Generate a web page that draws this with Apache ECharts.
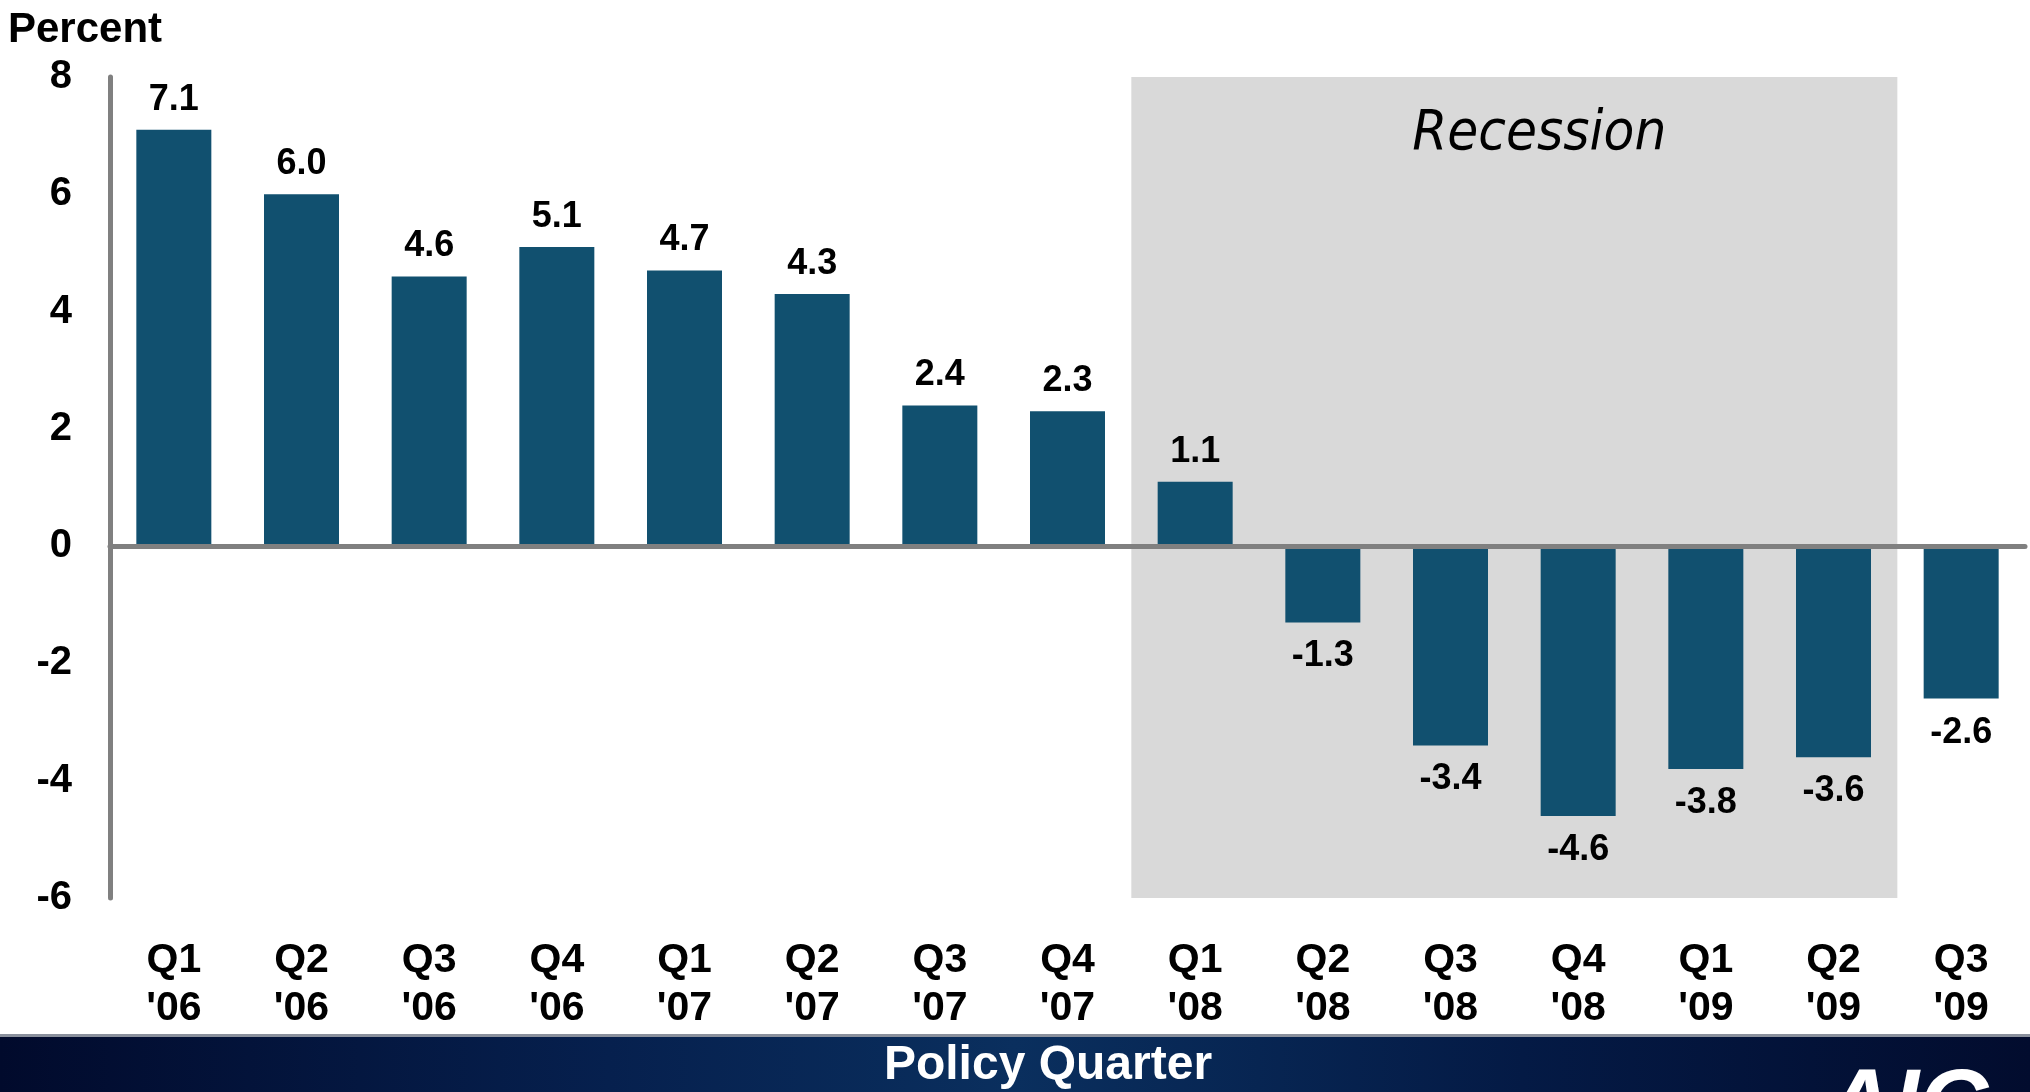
<!DOCTYPE html>
<html>
<head>
<meta charset="utf-8">
<script src="https://cdn.jsdelivr.net/npm/echarts@6/dist/echarts.min.js"></script>
<style>
  html, body { margin: 0; padding: 0; background: #fff; }
  #chart { width: 2030px; height: 1092px; }
</style>
</head>
<body>
<div id="chart"></div>
<script>
// policy quarters and growth in percent
const quarters = ["Q1\n'06", "Q2\n'06", "Q3\n'06", "Q4\n'06", "Q1\n'07", "Q2\n'07", "Q3\n'07", "Q4\n'07",
  "Q1\n'08", "Q2\n'08", "Q3\n'08", "Q4\n'08", "Q1\n'09", "Q2\n'09", "Q3\n'09"]
const growth = [7.1, 6.0, 4.6, 5.1, 4.7, 4.3, 2.4, 2.3, 1.1, -1.3, -3.4, -4.6, -3.8, -3.6, -2.6]
const recession = ["Q1\n'08", "Q2\n'09"]
const yTicks = { min: -6, max: 8, step: 2 }

const font = 'Liberation Sans, Arial, sans-serif'
let chart = echarts.init(document.getElementById('chart'))

let barData = growth.map(v => ({
  value: v,
  label: {
    position: v < 0 ? 'bottom' : 'top',
    distance: v < 0 ? 16 : 12
  }
}))

let option = {
  backgroundColor: '#ffffff',
  animation: false,
  grid: { left: 110, right: 5, top: 77, bottom: 194 },
  title: {
    text: 'Percent',
    left: 3,
    top: 4,
    textStyle: { fontFamily: font, fontWeight: 'bold', fontSize: 42, color: '#000' }
  },
  xAxis: {
    type: 'category',
    data: quarters,
    z: 4,
    axisTick: { show: false },
    axisLine: { onZero: true, lineStyle: { color: '#808080', width: 5 } },
    axisLabel: {
      interval: 0,
      margin: 39,
      fontFamily: font, fontWeight: 'bold', fontSize: 41, lineHeight: 48, color: '#000'
    }
  },
  yAxis: {
    type: 'value',
    min: yTicks.min,
    max: yTicks.max,
    interval: yTicks.step,
    z: 4,
    splitLine: { show: false },
    axisTick: { show: false },
    axisLine: { show: true, lineStyle: { color: '#808080', width: 5 } },
    axisLabel: { margin: 38, fontFamily: font, fontWeight: 'bold', fontSize: 40, color: '#000' }
  },
  series: [{
    type: 'bar',
    data: barData,
    barWidth: 75,
    itemStyle: { color: '#11506f' },
    label: {
      show: true,
      fontFamily: font, fontWeight: 'bold', fontSize: 36, color: '#000',
      formatter: p => p.value.toFixed(1)
    },
    markArea: {
      silent: true,
      itemStyle: { color: '#d9d9d9' },
      label: {
        show: true,
        position: 'insideTop',
        distance: 29,
        offset: [25, 0],
        formatter: 'Recession',
        fontFamily: 'DejaVu Sans Condensed, Open Sans, sans-serif',
        fontStyle: 'italic',
        fontSize: 56,
        color: '#000'
      },
      data: [[{ xAxis: recession[0] }, { xAxis: recession[1] }]]
    },
    z: 3
  }],
  graphic: [
    {
      type: 'rect',
      left: 0, top: 1036,
      shape: { width: 2030, height: 56 },
      style: {
        fill: new echarts.graphic.LinearGradient(0, 0, 1, 0, [
          { offset: 0, color: '#010a2c' },
          { offset: 0.3, color: '#06204e' },
          { offset: 0.5, color: '#0a2f5e' },
          { offset: 0.75, color: '#041a45' },
          { offset: 1, color: '#020c2e' }
        ])
      },
      z: 10
    },
    {
      type: 'rect',
      left: 0, top: 1034,
      shape: { width: 2030, height: 3 },
      style: { fill: '#8a909c' },
      z: 11
    },
    {
      type: 'text',
      x: 1048,
      y: 1066,
      style: {
        text: 'Policy Quarter',
        align: 'center',
        verticalAlign: 'middle',
        fontFamily: font, fontWeight: 'bold', fontSize: 48, fill: '#ffffff'
      },
      z: 12
    },
    {
      type: 'text',
      left: 1825,
      top: 1062,
      style: {
        text: 'AIG',
        fontFamily: font, fontWeight: 'bold', fontStyle: 'italic', fontSize: 94, fill: '#ffffff'
      },
      z: 12
    }
  ]
}

chart.setOption(option)
</script>
</body>
</html>
